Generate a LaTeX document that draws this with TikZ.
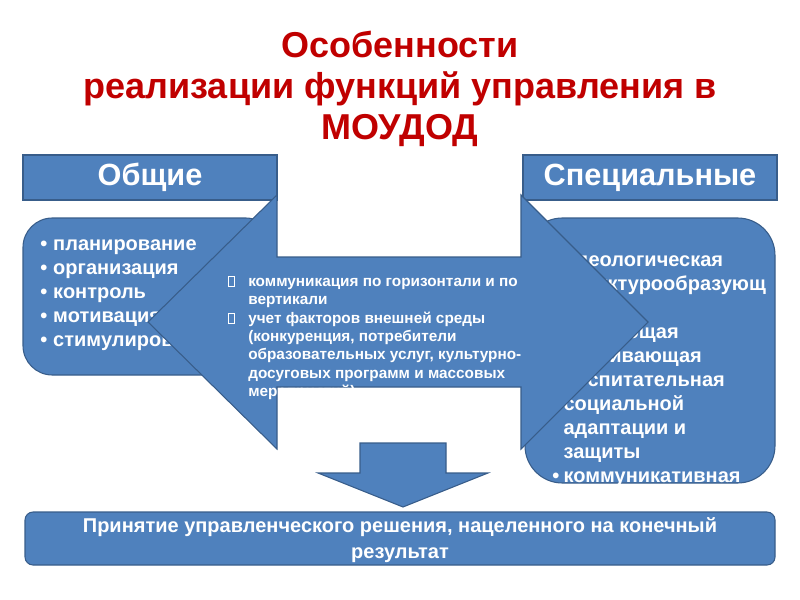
\documentclass[tikz,border=0pt]{standalone}
\usepackage{fontspec}
\setmainfont{Liberation Sans}
\definecolor{boxblue}{HTML}{4F81BD}
\definecolor{edgeblue}{HTML}{385D8A}
\definecolor{titlered}{HTML}{C00000}
\newcommand\itm[1][9.75pt]{\makebox[#1][l]{\textbullet}}
\newcommand\tofu{\makebox[15pt][l]{{\setlength\fboxsep{0pt}\setlength\fboxrule{0.5pt}\fbox{\rule{0pt}{7pt}\hspace{4pt}}}}}

\begin{document}
\begin{tikzpicture}[x=0.75pt, y=-0.75pt, every node/.style={font=\bfseries, text=white, inner sep=0pt},
	panel/.style={fill=boxblue, draw=edgeblue, line width=0.8pt},
	hdr/.style={panel, minimum width=190.5pt, minimum height=33.75pt, font=\fontsize{23}{26}\selectfont\bfseries},
	listtxt/.style={anchor=north west, align=left, font=\fontsize{15}{18}\selectfont\bfseries}]
	\useasboundingbox (0,0) rectangle (800,600);
	\node[text=titlered, align=center, font=\fontsize{27}{30.75}\selectfont\bfseries] (title) at (400,89) {Особенности\\реализации функций управления в\\МОУДОД};
	\node[hdr] (obshie) at (150,177.5) {Общие};
	\node[hdr] (spec) at (650,177.5) {Специальные};
	\draw[panel, rounded corners=22pt] (23,218) rectangle (275,375);
	\node[listtxt] (obshielist) at (40,239) {\itm планирование\\\itm организация\\\itm контроль\\\itm мотивация\\\itm стимулирование};
	\draw[panel, rounded corners=28pt] (525,218) rectangle (775,483);
	\node[listtxt] (speclist) at (552,255) {\itm[8.5pt]идеологическая\\\hspace*{8.5pt}структурообразующ\\\hspace*{8.5pt}ая\\\itm[8.5pt]обучающая\\\itm[8.5pt]развивающая\\\itm[8.5pt]воспитательная\\\itm[8.5pt]социальной\\\hspace*{8.5pt}адаптации и\\\hspace*{8.5pt}защиты\\\itm[8.5pt]коммуникативная};
	\draw[panel] (148,322) -- (277,195) -- (277,257) -- (521,257) -- (521,195) -- (648,322) -- (521,449) -- (521,387) -- (277,387) -- (277,449) -- cycle;
	\node[listtxt, font=\fontsize{11.5}{13.8}\selectfont\bfseries] (factors) at (228,276) {\tofu коммуникация по горизонтали и по\\\hspace*{15pt}вертикали\\\tofu учет факторов внешней среды\\\hspace*{15pt}(конкуренция, потребители\\\hspace*{15pt}образовательных услуг, культурно-\\\hspace*{15pt}досуговых программ и массовых\\\hspace*{15pt}мероприятий)};
	\draw[panel] (360,443) -- (446,443) -- (446,473) -- (488,473) -- (403,507) -- (318,473) -- (360,473) -- cycle;
	\draw[panel, rounded corners=6pt] (25,512) rectangle (775,565);
	\node[align=center, font=\fontsize{15}{19}\selectfont\bfseries] (result) at (400,540) {Принятие управленческого решения, нацеленного на конечный\\результат};
\end{tikzpicture}
\end{document}
